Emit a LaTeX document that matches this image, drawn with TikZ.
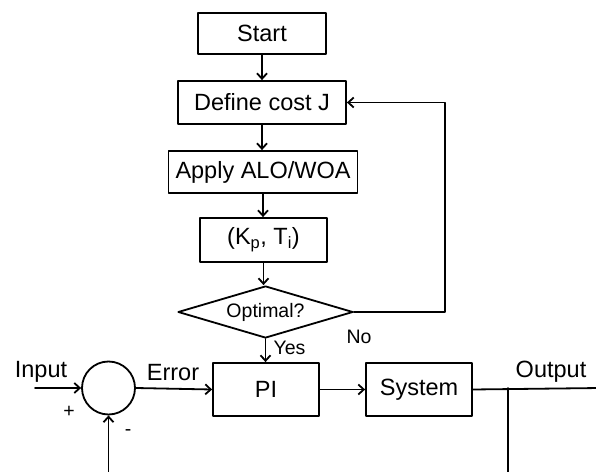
\documentclass[tikz,border=0pt]{standalone}
\usepackage{fontspec}
\setmainfont{Liberation Sans}
\usepackage{tikz}
\usetikzlibrary{arrows.meta,shapes.geometric}

\begin{document}
\begin{tikzpicture}[line cap=round,line join=round,>={Straight Barb[length=5.5pt,width=10pt]},x=1pt,y=1pt,
  every node/.style={font=\fontsize{23.5}{27}\selectfont},
  blk/.style={draw,line width=1.8pt,inner sep=0pt},
  small/.style={font=\fontsize{19.5}{23}\selectfont},
  wire/.style={line width=1.8pt}]
\clip(0,0) rectangle (596,471);
% optimisation loop
\node[blk,minimum width=128,minimum height=41] (start) at (262,437.5) {Start};
\node[blk,minimum width=168,minimum height=43] (define) at (262,368.5) {Define cost J};
\node[blk,minimum width=189,minimum height=42] (apply) at (263,299) {Apply ALO/WOA};
\node[blk,minimum width=127,minimum height=44] (gains) at (263.5,231) {(K\textsubscript{p}, T\textsubscript{i})};
\node[blk,diamond,aspect=3.4,small,minimum width=175,minimum height=52] (optimal) at (265.5,159) {Optimal?};
\draw [wire,->] (start.south) -- (start.south |- define.north);
\draw [wire,->] (define.south) -- (define.south |- apply.north);
\draw [wire,->] (apply.south) -- (apply.south |- gains.north);
\draw [wire,->] (gains.south) -- (gains.south |- optimal.north);
\coordinate (loop) at (445,159);
\draw [wire,->] (optimal.east) -- (loop) |- (define.east);
\node[small,anchor=base west] (no) at (343,128) {No};
% control loop
\node[draw,circle,line width=1.8pt,minimum size=53,inner sep=0pt] (sum) at (108.5,83) {};
\node[blk,minimum width=106,minimum height=53] (pi) at (266,81.5) {PI};
\node[blk,minimum width=106,minimum height=53] (plant) at (419,81.5) {System};
\draw [wire,->] (optimal.south) -- (optimal.south |- pi.north);
\node[small,anchor=base west] (yes) at (270,117) {Yes};
\coordinate (in) at (35,83);
\coordinate (out) at (600,83);
\coordinate (tap) at (508,83);
\coordinate (tapend) at (508,-5);
\coordinate (fb) at (108.5,-5);
\draw [wire,->] (in) -- (sum.west);
\draw [wire,->] (sum.east) -- (pi.west);
\draw [wire,->] (pi.east) -- (plant.west);
\draw [wire] (plant.east) -- (out);
\draw [wire] (tap) -- (tapend);
\draw [wire,->] (fb) -- (sum.south);
\node[anchor=base] (input) at (41,94) {Input};
\node[anchor=base] (error) at (173,91) {Error};
\node[anchor=base] (output) at (551,94) {Output};
\node[small] (plus) at (69,59) {+};
\node[small] (minus) at (128,38) {-};
\end{tikzpicture}
\end{document}
